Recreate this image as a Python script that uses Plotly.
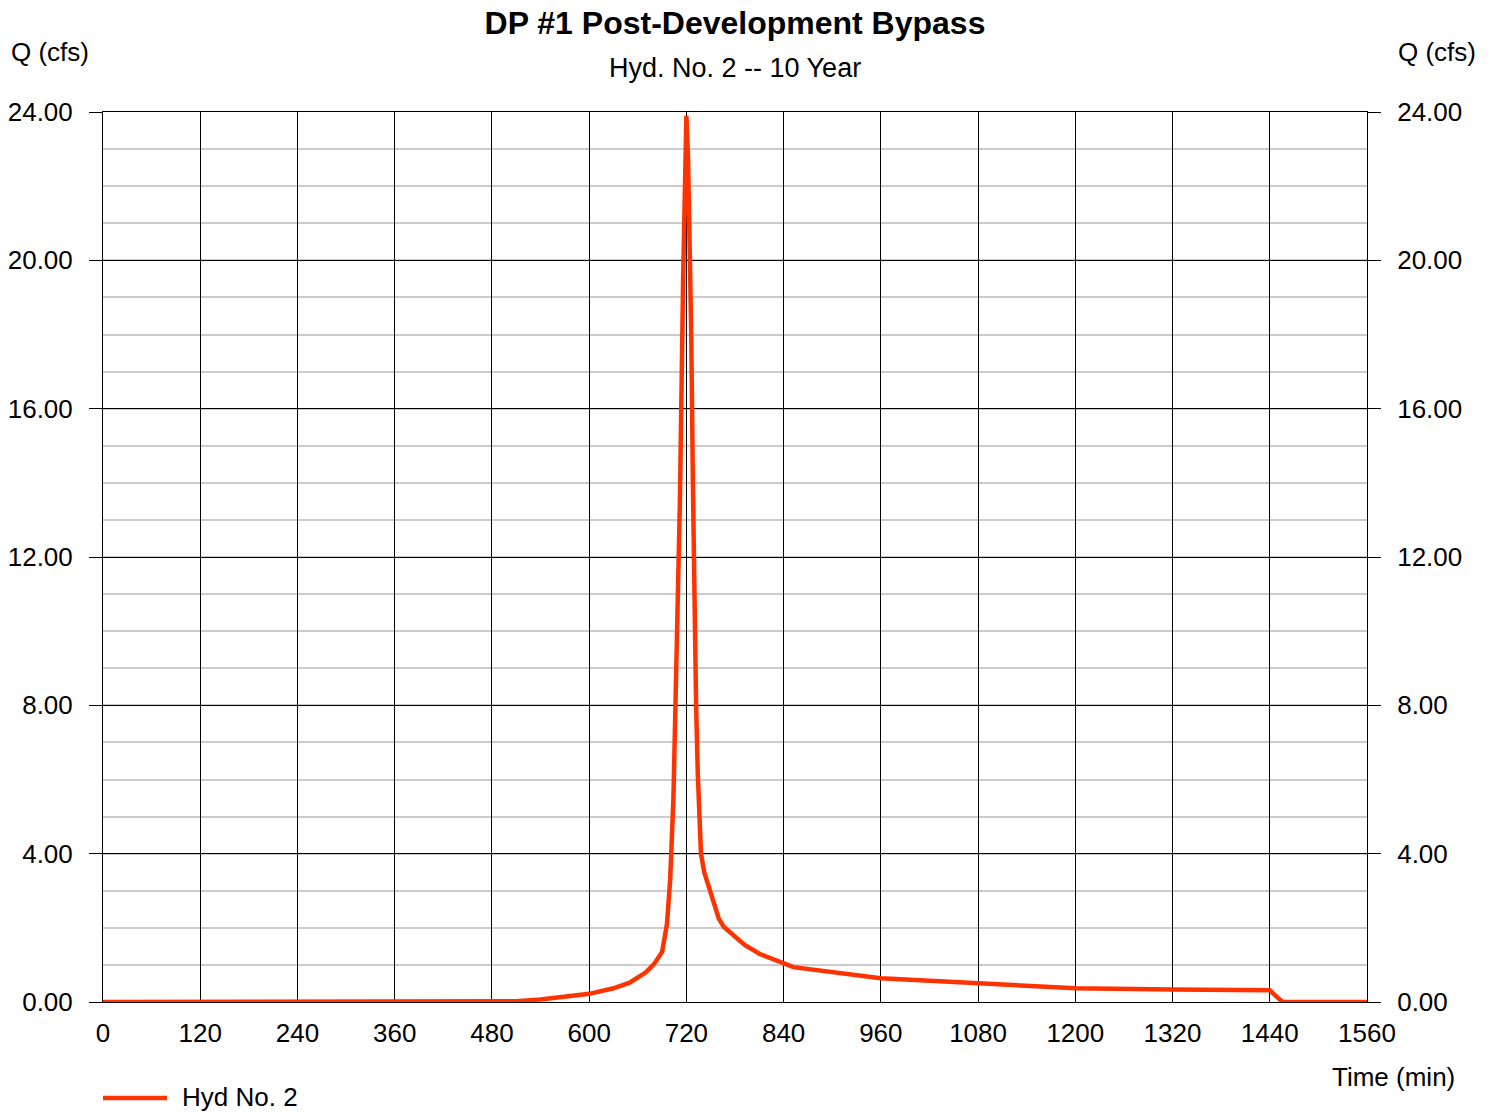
import plotly.graph_objects as go

# Hydrograph data (time in minutes, flow in cfs)
time_min = [0, 480, 510, 540, 570, 600, 630, 650, 670, 680, 690, 696, 700, 704, 708,
            712, 716, 718, 720, 722, 724, 726, 728, 730, 732, 734, 736, 738, 742,
            750, 760, 766, 780, 792, 810, 840, 852, 960, 1080, 1200, 1320, 1440,
            1448, 1456, 1560]
flow_cfs = [0.00, 0.00, 0.02, 0.07, 0.13, 0.22, 0.37, 0.52, 0.80, 1.02, 1.35, 2.10,
            3.30, 5.50, 9.50, 13.50, 19.50, 22.50, 23.90, 22.80, 20.50, 18.00,
            14.00, 10.50, 8.00, 6.20, 4.80, 4.00, 3.50, 2.90, 2.25, 2.03, 1.75,
            1.54, 1.30, 1.02, 0.94, 0.64, 0.50, 0.37, 0.34, 0.32, 0.15, 0.00, 0.00]

x_ticks = [0, 120, 240, 360, 480, 600, 720, 840, 960, 1080, 1200, 1320, 1440, 1560]
y_ticks = [0, 4, 8, 12, 16, 20, 24]
y_tick_labels = ["0.00", "4.00", "8.00", "12.00", "16.00", "20.00", "24.00"]

title_text = "<b>DP #1 Post-Development Bypass</b>"
subtitle_text = "Hyd. No. 2 -- 10 Year"
series_name = "Hyd No. 2"

FONT = "Liberation Sans, Arial, sans-serif"
LINE_COLOR = "#FF3300"

fig = go.Figure()
fig.add_trace(go.Scatter(x=time_min, y=flow_cfs, mode="lines", name=series_name,
                         line=dict(color=LINE_COLOR, width=4.5), yaxis="y",
                         showlegend=False))
# invisible copy so the right axis is drawn
fig.add_trace(go.Scatter(x=time_min, y=flow_cfs, mode="lines", showlegend=False,
                         hoverinfo="skip", line=dict(color="rgba(0,0,0,0)", width=0),
                         yaxis="y2"))

W, H = 1493, 1112
L, R, T, B = 103, 126, 112, 110
pw, ph = W - L - R, H - T - B

def px(xp):
    return (xp - L) / pw

def py(yp):
    return (H - B - yp) / ph

axis_font = dict(family=FONT, size=26, color="black")

fig.update_layout(
    width=W, height=H,
    margin=dict(l=L, r=R, t=T, b=B, autoexpand=False),
    paper_bgcolor="white", plot_bgcolor="white",
    font=dict(family=FONT, size=26, color="black"),
    title=dict(text=title_text, x=0.5, xref="paper", xanchor="center",
               y=1 - 23 / H, yref="container", yanchor="middle",
               font=dict(family=FONT, size=32, color="black")),
    xaxis=dict(range=[0, 1560], tickvals=x_ticks, ticks="", showgrid=True,
               gridcolor="black", gridwidth=1, zeroline=False,
               showline=True, linecolor="black", linewidth=1, mirror=True,
               tickfont=axis_font, ticklabelstandoff=8),
    yaxis=dict(range=[0, 24], tickvals=y_ticks, ticktext=y_tick_labels,
               ticks="outside", ticklen=13, tickcolor="black", tickwidth=1,
               showgrid=True, gridcolor="black", gridwidth=1, zeroline=False,
               showline=True, linecolor="black", linewidth=1, mirror=True,
               tickfont=axis_font, ticklabelstandoff=11,
               minor=dict(dtick=1, showgrid=True, gridcolor="#cccccc", gridwidth=2)),
    yaxis2=dict(range=[0, 24], tickvals=y_ticks, ticktext=y_tick_labels,
                overlaying="y", side="right", ticks="outside", ticklen=13,
                tickcolor="black", tickwidth=1, showgrid=False, zeroline=False,
                showline=False, tickfont=axis_font, ticklabelstandoff=11),
    showlegend=False,
    shapes=[
        dict(type="line", xref="paper", yref="paper", x0=px(103), x1=px(167),
             y0=py(1098), y1=py(1098), line=dict(color=LINE_COLOR, width=4.5)),
    ],
    annotations=[
        dict(text=subtitle_text, xref="paper", yref="paper", x=0.5, y=py(68),
             xanchor="center", yanchor="middle", showarrow=False,
             font=dict(family=FONT, size=27, color="black")),
        dict(text="Q (cfs)", xref="paper", yref="paper", x=px(9), y=py(52),
             xanchor="left", yanchor="middle", showarrow=False,
             font=dict(family=FONT, size=26, color="black")),
        dict(text="Q (cfs)", xref="paper", yref="paper", x=px(1396), y=py(52),
             xanchor="left", yanchor="middle", showarrow=False,
             font=dict(family=FONT, size=26, color="black")),
        dict(text="Time (min)", xref="paper", yref="paper", x=px(1457), y=py(1077),
             xanchor="right", yanchor="middle", showarrow=False,
             font=dict(family=FONT, size=26, color="black")),
        dict(text=series_name, xref="paper", yref="paper", x=px(180), y=py(1097),
             xanchor="left", yanchor="middle", showarrow=False,
             font=dict(family=FONT, size=26, color="black")),
    ],
)

fig.write_html("out.html")
